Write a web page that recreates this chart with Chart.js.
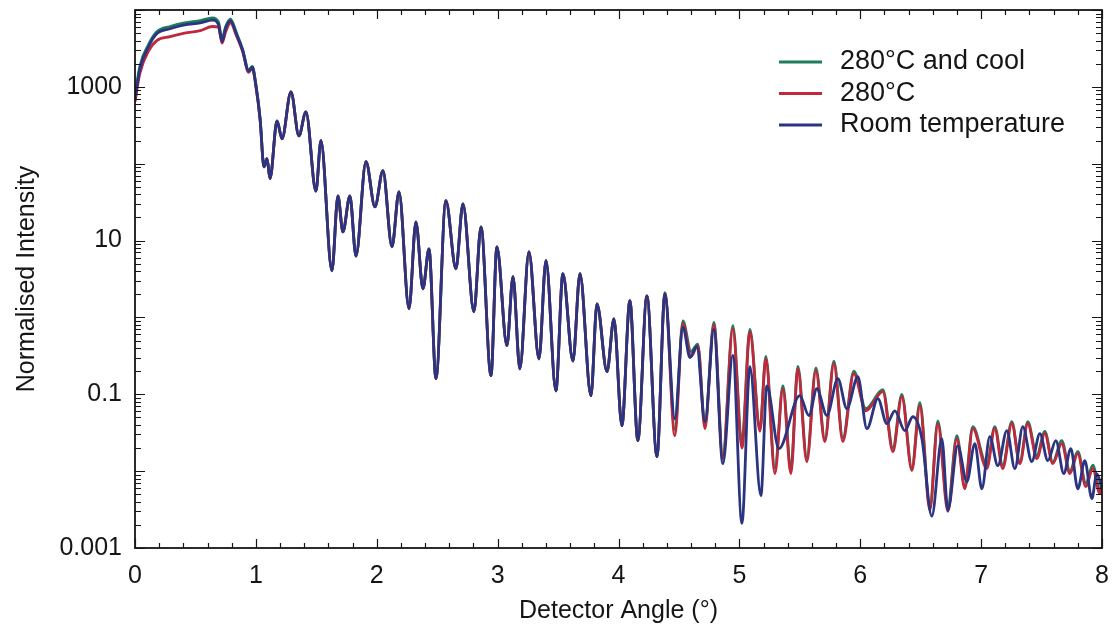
<!DOCTYPE html>
<html>
<head>
<meta charset="utf-8">
<title>Normalised Intensity vs Detector Angle</title>
<script src="https://cdn.jsdelivr.net/npm/chart.js"></script>
<style>
  html, body { margin: 0; padding: 0; background: #fff; }
  #wrap { width: 1118px; height: 634px; position: relative; }
</style>
</head>
<body>
<div id="wrap"><canvas id="chart"></canvas></div>
<script>
// Reflectivity curves (angle in degrees, normalised intensity)

const seriesNames = ['280°C and cool', '280°C', 'Room temperature'];
const seriesColors = ['#1f7d5c', '#c0283c', '#2a3480'];

// 0 - 1 deg: plateau, the three runs differ a little
const plateauAngle = [0, 0.04, 0.11, 0.18, 0.29, 0.41, 0.54, 0.64, 0.69, 0.72, 0.75, 0.79, 0.84, 0.89, 0.94, 0.97, 1.0, 1.035];
const plateauCool  = [760, 1850, 3500, 5200, 6100, 6800, 7300, 7900, 7000, 4200, 6100, 7600, 5000, 3100, 1650, 1850, 1080, 390];
const plateauHot   = [640, 1500, 2900, 4000, 4500, 5000, 5400, 6100, 6000, 3700, 5200, 6800, 4600, 2900, 1550, 1750, 1020, 370];
const plateauRoom  = [700, 1700, 3300, 4900, 5700, 6400, 6800, 7400, 6500, 3900, 5800, 7200, 4800, 3000, 1600, 1800, 1050, 380];

// 1 - 4.3 deg: fringes overlap for all three runs
const midAngle = [1.067, 1.092, 1.117, 1.175, 1.216, 1.29, 1.356, 1.414, 1.497, 1.538,
                  1.629, 1.679, 1.72, 1.778, 1.828, 1.911, 1.985, 2.051, 2.126, 2.184,
                  2.267, 2.324, 2.382, 2.432, 2.49, 2.572, 2.655, 2.713, 2.804, 2.862,
                  2.945, 2.994, 3.077, 3.127, 3.184, 3.259, 3.342, 3.4, 3.482, 3.54,
                  3.623, 3.681, 3.772, 3.822, 3.905, 3.962, 4.028, 4.094, 4.16, 4.235, 4.318];
const midIntensity = [91, 116, 64, 361, 211, 861, 231, 473, 44, 199,
                      4.05, 38, 13, 38, 6.3, 106, 27.5, 81, 8.3, 43,
                      1.3, 17.5, 2.36, 7.8, 0.16, 33, 4.3, 30, 1.19, 15.1,
                      0.175, 8.3, 0.43, 3.4, 0.215, 7.1, 0.29, 5.5, 0.111, 3.7,
                      0.27, 3.7, 0.096, 1.5, 0.197, 0.96, 0.039, 1.65, 0.025, 1.91, 0.0155];

// 4.4 - 8 deg: heated runs
const hotAngle = [4.384, 4.466, 4.533, 4.6, 4.656, 4.715, 4.789, 4.863, 4.946, 5.021,
                  5.087, 5.17, 5.219, 5.294, 5.36, 5.426, 5.484, 5.558, 5.633, 5.707,
                  5.782, 5.856, 5.947, 6.046, 6.187, 6.27, 6.344, 6.427, 6.493, 6.576,
                  6.642, 6.725, 6.799, 6.865, 6.931, 7.047, 7.113, 7.179, 7.254, 7.32,
                  7.386, 7.461, 7.527, 7.593, 7.667, 7.734, 7.8, 7.866, 7.924, 7.982, 8.0];
const highCool = [2.1, 0.035, 0.9, 0.36, 0.45, 0.04, 0.86, 0.016, 0.78, 0.025,
                  0.7, 0.036, 0.31, 0.011, 0.13, 0.011, 0.23, 0.015, 0.22, 0.026,
                  0.27, 0.027, 0.2, 0.065, 0.115, 0.02, 0.1, 0.011, 0.078, 0.0035,
                  0.045, 0.0035, 0.029, 0.0065, 0.038, 0.012, 0.038, 0.012, 0.044, 0.013,
                  0.044, 0.016, 0.033, 0.013, 0.025, 0.01, 0.018, 0.007, 0.012, 0.0055, 0.0072];
const highHot  = [2.03, 0.029, 0.83, 0.31, 0.43, 0.0357, 0.8, 0.0146, 0.71, 0.02,
                  0.65, 0.033, 0.29, 0.0093, 0.118, 0.0093, 0.215, 0.0133, 0.203, 0.0242,
                  0.25, 0.0242, 0.185, 0.061, 0.108, 0.018, 0.093, 0.0102, 0.071, 0.0031,
                  0.0415, 0.003, 0.0265, 0.0059, 0.0357, 0.0108, 0.0357, 0.0108, 0.0415, 0.0125,
                  0.0415, 0.0146, 0.0308, 0.0125, 0.0228, 0.0093, 0.0169, 0.0063, 0.0108, 0.0051, 0.0069];

// 4.4 - 8 deg: room temperature run
const roomAngle = [4.384, 4.466, 4.533, 4.591, 4.648, 4.715, 4.789, 4.863, 4.946, 5.021,
                   5.087, 5.178, 5.227, 5.327, 5.5, 5.575, 5.641, 5.724, 5.815, 5.889,
                   5.98, 6.055, 6.146, 6.22, 6.286, 6.369, 6.435, 6.51, 6.592, 6.675,
                   6.725, 6.807, 6.882, 6.948, 7.006, 7.072, 7.138, 7.213, 7.279, 7.345,
                   7.419, 7.486, 7.552, 7.618, 7.684, 7.742, 7.8, 7.858, 7.916, 7.957, 8.0];
const highRoom = [2.03, 0.048, 0.75, 0.3, 0.42, 0.044, 0.7, 0.0125, 0.32, 0.0021,
                  0.229, 0.0048, 0.129, 0.0196, 0.096, 0.053, 0.118, 0.053, 0.16, 0.065,
                  0.169, 0.0357, 0.088, 0.0415, 0.061, 0.0336, 0.051, 0.0265, 0.0026, 0.0265,
                  0.0031, 0.0215, 0.0073, 0.0228, 0.0059, 0.0281, 0.0118, 0.0336, 0.0108, 0.038,
                  0.0133, 0.0308, 0.0137, 0.025, 0.0093, 0.0196, 0.0059, 0.0137, 0.0044, 0.0093, 0.0059];

const xTicks = [0, 1, 2, 3, 4, 5, 6, 7, 8];
const yLabelled = [0.001, 0.1, 10, 1000];

const FONT = '"Liberation Sans", Arial, Helvetica, sans-serif';

function toPoints(xs, ys) {
    return xs.map((x, i) => ({ x: x, y: ys[i] }));
}

const coolPts = toPoints(plateauAngle.concat(midAngle, hotAngle), plateauCool.concat(midIntensity, highCool));
const hotPts  = toPoints(plateauAngle.concat(midAngle, hotAngle), plateauHot.concat(midIntensity, highHot));
const roomPts = toPoints(plateauAngle.concat(midAngle, roomAngle), plateauRoom.concat(midIntensity, highRoom));

// frame with inward ticks on all four sides
const frameTicks = {
    id: 'frameTicks',
    afterDraw(chart) {
        const { ctx, chartArea: a, scales: { x, y } } = chart;
        ctx.save();
        ctx.strokeStyle = '#151515';
        ctx.lineWidth = 1.8;
        ctx.strokeRect(a.left, a.top, a.right - a.left, a.bottom - a.top);
        ctx.lineWidth = 1.2;
        ctx.beginPath();
        for (let i = 0; i <= 40; i++) {
            const px = Math.round(x.getPixelForValue(i * 0.2)) + 0.5;
            const len = i % 5 === 0 ? 9 : 5;
            ctx.moveTo(px, a.bottom); ctx.lineTo(px, a.bottom - len);
            ctx.moveTo(px, a.top); ctx.lineTo(px, a.top + len);
        }
        for (let e = -3; e <= 4; e++) {
            for (let m = 1; m <= 9; m++) {
                const v = m * Math.pow(10, e);
                if (v > 10000) break;
                const py = Math.round(y.getPixelForValue(v)) + 0.5;
                const len = m === 1 ? 10 : 6;
                ctx.moveTo(a.left, py); ctx.lineTo(a.left + len, py);
                ctx.moveTo(a.right, py); ctx.lineTo(a.right - len, py);
            }
        }
        ctx.stroke();
        ctx.restore();
    }
};

// legend inside the plot, top right
const insideLegend = {
    id: 'insideLegend',
    afterDraw(chart) {
        const ctx = chart.ctx;
        ctx.save();
        ctx.font = '27px ' + FONT;
        ctx.textBaseline = 'middle';
        seriesNames.forEach((name, i) => {
            const yy = 62 + i * 31.5;
            ctx.strokeStyle = seriesColors[i];
            ctx.lineWidth = 3;
            ctx.beginPath();
            ctx.moveTo(779, yy);
            ctx.lineTo(822, yy);
            ctx.stroke();
            ctx.fillStyle = '#151515';
            ctx.fillText(name, 840, yy);
        });
        ctx.restore();
    }
};

function makeSet(label, pts, color, order) {
    return {
        label: label,
        data: pts,
        borderColor: color,
        backgroundColor: color,
        borderWidth: 2.8,
        pointRadius: 0,
        fill: false,
        cubicInterpolationMode: 'monotone',
        order: order
    };
}

new Chart(document.getElementById('chart'), {
    type: 'line',
    data: {
        datasets: [
            makeSet(seriesNames[0], coolPts, seriesColors[0], 2),
            makeSet(seriesNames[1], hotPts, seriesColors[1], 1),
            makeSet(seriesNames[2], roomPts, seriesColors[2], 0)
        ]
    },
    options: {
        responsive: true,
        maintainAspectRatio: false,
        animation: false,
        layout: { padding: { top: 10, right: 16, left: 0, bottom: 0 } },
        plugins: {
            legend: { display: false },
            tooltip: { enabled: false }
        },
        scales: {
            x: {
                type: 'linear',
                min: 0,
                max: 8,
                grid: { display: false, drawTicks: false },
                border: { display: false },
                afterBuildTicks: (s) => { s.ticks = xTicks.map(v => ({ value: v })); },
                afterFit: (s) => {
                    s.height = 86;
                    s.paddingLeft = 0;
                    s.paddingRight = 0;
                },
                ticks: {
                    autoSkip: false,
                    maxRotation: 0,
                    padding: 13,
                    color: '#151515',
                    font: { family: FONT, size: 25 },
                    callback: (v) => String(v)
                },
                title: {
                    display: true,
                    text: 'Detector Angle (°)',
                    color: '#151515',
                    font: { family: FONT, size: 25, lineHeight: 1.2 },
                    padding: { top: 0, bottom: 8 }
                }
            },
            y: {
                type: 'logarithmic',
                min: 0.001,
                max: 10000,
                grid: { display: false, drawTicks: false },
                border: { display: false },
                afterBuildTicks: (s) => {
                    const t = [];
                    for (let e = -3; e <= 4; e++) t.push({ value: Math.pow(10, e) });
                    s.ticks = t;
                },
                afterFit: (s) => {
                    s.width = 135;
                    s.paddingTop = 0;
                    s.paddingBottom = 0;
                },
                ticks: {
                    autoSkip: false,
                    padding: 13,
                    color: '#151515',
                    font: { family: FONT, size: 25 },
                    callback: (v) => {
                        const hit = yLabelled.find(l => Math.abs(Math.log10(l) - Math.log10(v)) < 1e-6);
                        return hit !== undefined ? String(hit) : '';
                    }
                },
                title: {
                    display: true,
                    text: 'Normalised Intensity',
                    color: '#151515',
                    font: { family: FONT, size: 25, lineHeight: 1.2 },
                    padding: { top: 12, bottom: 0 }
                }
            }
        }
    },
    plugins: [frameTicks, insideLegend]
});
</script>
</body>
</html>
